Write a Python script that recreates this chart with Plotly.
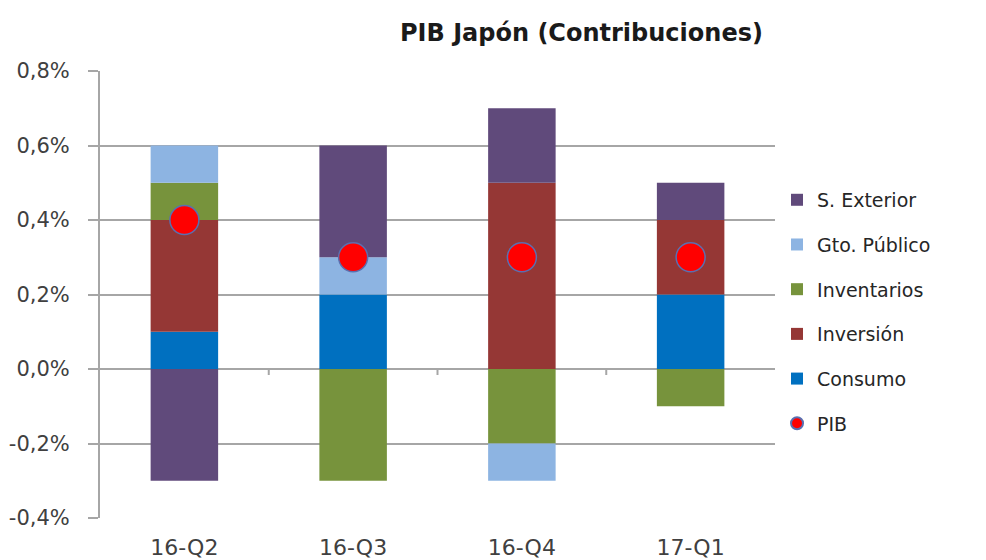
import plotly.graph_objects as go

categories = ["16-Q2", "16-Q3", "16-Q4", "17-Q1"]
consumo = [0.1, 0.2, 0.0, 0.2]
inversion = [0.3, 0.0, 0.5, 0.2]
inventarios = [0.1, -0.3, -0.2, -0.1]
gto_publico = [0.1, 0.1, -0.1, 0.0]
s_exterior = [-0.3, 0.3, 0.2, 0.1]
pib = [0.4, 0.3, 0.3, 0.3]

y_tickvals = [-0.4, -0.2, 0.0, 0.2, 0.4, 0.6, 0.8]
y_ticktext = ["-0,4%", "-0,2%", "0,0%", "0,2%", "0,4%", "0,6%", "0,8%"]

font_family = "DejaVu Sans"
txt_color = "#404040"
grid_color = "#A6A6A6"

fig = go.Figure()

bar_series = [
    ("Consumo", consumo, "#0070C0", 5),
    ("Inversión", inversion, "#953735", 4),
    ("Inventarios", inventarios, "#77933C", 3),
    ("Gto. Público", gto_publico, "#8DB4E2", 2),
    ("S. Exterior", s_exterior, "#604A7B", 1),
]
for name, vals, col, rank in bar_series:
    fig.add_trace(go.Bar(
        x=categories, y=vals, name=name, marker=dict(color=col, line=dict(width=0)),
        legendgroup=name, legendrank=rank,
    ))

fig.add_trace(go.Scatter(
    x=categories, y=pib, mode="markers", name="PIB",
    marker=dict(color="#FF0000", size=29, line=dict(color="#5A6FB0", width=1.5)),
    legendgroup="pib", legendrank=6,
))

fig.update_layout(
    width=986, height=560,
    barmode="relative", bargap=0.6,
    plot_bgcolor="white", paper_bgcolor="white",
    margin=dict(l=100, r=211, t=71, b=42, autoexpand=False),
    font=dict(family=font_family, color=txt_color, size=20),
    showlegend=True,
    legend=dict(
        traceorder="grouped", x=1.003, xanchor="left", y=0.461, yanchor="middle",
        font=dict(size=19, color="#262626"), tracegroupgap=17,
        itemwidth=30, itemsizing="constant",
    ),
    annotations=[dict(
        text="<b>PIB Japón (Contribuciones)</b>", xref="paper", yref="paper",
        x=0.713, y=1.085, xanchor="center", yanchor="middle", showarrow=False,
        font=dict(size=24, color="#1a1a1a", family=font_family),
    )],
)

fig.update_xaxes(
    showgrid=False, showline=False, ticks="", zeroline=False, automargin=False,
    tickfont=dict(size=22, color=txt_color), ticklabelstandoff=14,
)
fig.update_yaxes(
    range=[-0.4, 0.8], tickvals=y_tickvals, ticktext=y_ticktext, automargin=False,
    showgrid=True, gridcolor=grid_color, gridwidth=1.5,
    zeroline=True, zerolinecolor=grid_color, zerolinewidth=2,
    showline=True, linecolor=grid_color, linewidth=2,
    ticks="outside", ticklen=10, tickcolor=grid_color, tickwidth=1.5,
    tickfont=dict(size=21, color=txt_color), ticklabelstandoff=14,
)

# small ticks on the zero axis between categories
for xb in [0.5, 1.5, 2.5]:
    fig.add_shape(type="line", xref="x", yref="y", x0=xb, x1=xb,
                  ysizemode="pixel", yanchor=0, y0=0, y1=-6,
                  line=dict(color=grid_color, width=2))

fig.write_html(
    "out.html",
    config={"displayModeBar": False},
    post_script="document.body.style.margin='0';document.body.style.overflow='hidden';",
)
